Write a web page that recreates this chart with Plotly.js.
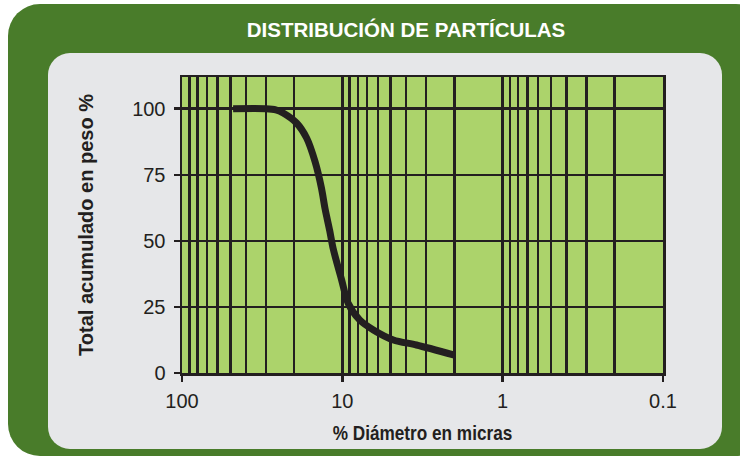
<!DOCTYPE html>
<html>
<head>
<meta charset="utf-8">
<script src="https://cdn.plot.ly/plotly-3.0.1.min.js"></script>
<style>
  html, body { margin: 0; padding: 0; background: #ffffff; }
  #wrap { position: relative; width: 740px; height: 459px; overflow: hidden; }
  #outer { position: absolute; left: 8px; top: 4px; width: 760px; height: 452px;
           background: #497c2a; border-radius: 32px; }
  #inner { position: absolute; left: 48px; top: 53px; width: 674px; height: 396px;
           background: #e6e7e9; border-radius: 22px; }
  #chart { position: absolute; left: 0; top: 0; width: 740px; height: 459px; }
  #chart .xtitle {
    transform-box: fill-box; transform-origin: center; transform: scaleX(0.86);
  }
</style>
</head>
<body>
<div id="wrap">
  <div id="outer"></div>
  <div id="inner"></div>
  <div id="chart"></div>
</div>
<script>
// Data
const diameter = [48, 30, 26, 23.4, 19.3, 16.7, 14.8, 13.5, 12.8, 12.0, 11.4, 10.1, 9.2, 7.8, 6.4, 4.8, 3.45, 2.0];
const cumulative = [100, 100, 99.6, 98.4, 94.6, 88.9, 80, 70, 62, 54, 47, 35.2, 26.4, 20.1, 16.3, 12.5, 10.6, 6.8];

const xTickVals = [100, 10, 1, 0.1];
const xTickText = ["100", "10", "1", "0.1"];
const xMinorVals = [90, 80, 70, 60, 50, 40, 30, 20, 9, 8, 7, 6, 5, 4, 3, 2, 0.9, 0.8, 0.7, 0.6, 0.5, 0.4, 0.3, 0.2];
const yTickVals = [0, 25, 50, 75, 100];

const lineColor = "#231f20";

const trace = {
  x: diameter,
  y: cumulative,
  type: "scatter",
  mode: "lines",
  line: { color: lineColor, width: 7, shape: "spline", smoothing: 0.8 },
  hoverinfo: "skip"
};

const layout = {
  width: 740,
  height: 459,
  margin: { l: 182, r: 77, t: 77, b: 86 },
  paper_bgcolor: "rgba(0,0,0,0)",
  plot_bgcolor: "#acd36b",
  showlegend: false,
  font: { family: "Liberation Sans, Arial, sans-serif", color: lineColor },
  title: {
    text: "<b>DISTRIBUCIÓN DE PARTÍCULAS</b>",
    font: { family: "Liberation Sans, Arial, sans-serif", size: 20.5, color: "#ffffff" },
    x: 406 / 740, xanchor: "center",
    y: 1 - 30 / 459, yanchor: "middle"
  },
  xaxis: {
    type: "log",
    range: [Math.log10(100), Math.log10(0.1)],
    tickmode: "array",
    tickvals: xTickVals,
    ticktext: xTickText,
    ticks: "outside",
    ticklen: 6,
    tickwidth: 2.5,
    tickcolor: lineColor,
    tickfont: { size: 20, color: lineColor },
    ticklabelstandoff: 2,
    showgrid: true,
    gridcolor: lineColor,
    gridwidth: 2.5,
    showline: true,
    linecolor: lineColor,
    linewidth: 2.5,
    mirror: true,
    zeroline: false,
    minor: {
      tickmode: "array",
      tickvals: xMinorVals,
      showgrid: true,
      gridcolor: lineColor,
      gridwidth: 2.5,
      ticks: ""
    },
    title: {
      text: "<b>% Diámetro en micras</b>",
      font: { family: "Liberation Sans, Arial, sans-serif", size: 20, color: lineColor },
      standoff: 16
    }
  },
  yaxis: {
    range: [0, 112],
    tickmode: "array",
    tickvals: yTickVals,
    ticks: "outside",
    ticklen: 6,
    tickwidth: 2.5,
    tickcolor: lineColor,
    tickfont: { size: 20, color: lineColor },
    ticklabelstandoff: 4,
    showgrid: true,
    gridcolor: lineColor,
    gridwidth: 2.5,
    showline: true,
    linecolor: lineColor,
    linewidth: 2.5,
    mirror: true,
    zeroline: false,
    title: {
      text: "<b>Total acumulado en peso %</b>",
      font: { family: "Liberation Sans, Arial, sans-serif", size: 20, color: lineColor },
      standoff: 33
    }
  }
};

Plotly.newPlot("chart", [trace], layout, { displayModeBar: false, staticPlot: true });
</script>
</body>
</html>
